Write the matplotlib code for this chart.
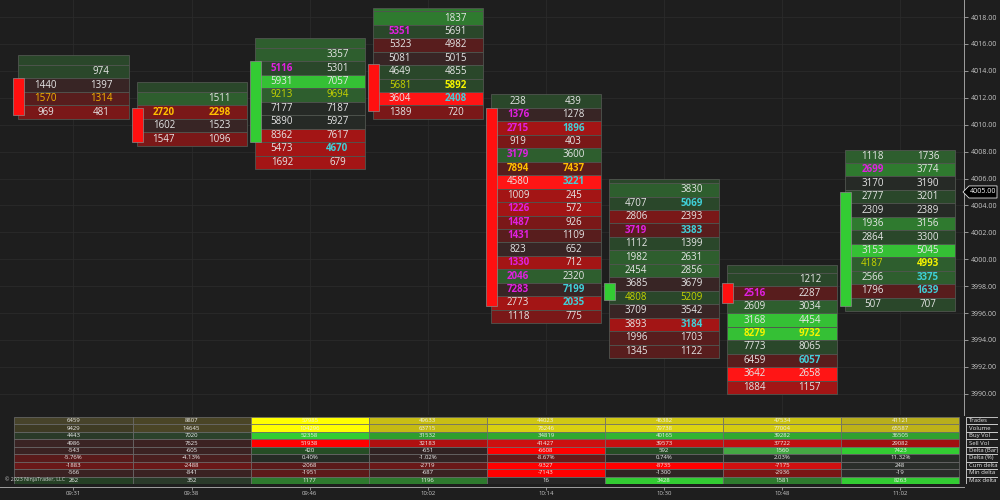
import matplotlib

matplotlib.use("Agg")
import matplotlib.pyplot as plt
import matplotlib.transforms as mtrans
from matplotlib.patches import Rectangle, Polygon

plt.rcParams["font.family"] = ["Open Sans", "DejaVu Sans"]

# ---- footprint data (one entry per bar) -------------------------------------
TIMES = ["09:31", "09:38", "09:46", "10:02", "10:14", "10:30", "10:48", "11:02"]

HIGH = [4015.19, 4013.18, 4016.45, 4018.68, 4012.25, 4005.94, 3999.57, 4008.15]
ROW_TOP = [4014.44, 4012.43, 4015.71, 4018.43, 4012.25, 4005.66, 3998.98, 4008.15]
OPEN = [4013.5, 4011.25, 4008.75, 4014.5, 4011.25, 3997.0, 3998.25, 3996.5]
CLOSE = [4010.75, 4008.75, 4014.75, 4011.0, 3996.5, 3998.25, 3996.75, 4005.0]
LAST_PRICE = 4005.0

BID = [
    [None, 1440, 1570, 969],
    [None, 2720, 1602, 1547],
    [None, 5116, 5931, 9213, 7177, 5890, 8362, 5473, 1692],
    [None, 5351, 5323, 5081, 4649, 5681, 3604, 1389],
    [238, 1376, 2715, 919, 3179, 7894, 4580, 1009, 1226, 1487, 1431, 823, 1330, 2046, 7283, 2773, 1118],
    [None, 4707, 2806, 3719, 1112, 1982, 2454, 3685, 4808, 3709, 3893, 1996, 1345],
    [None, 2516, 2609, 3168, 8279, 7773, 6459, 3642, 1884],
    [1118, 2699, 3170, 2777, 2309, 1936, 2864, 3153, 4187, 2566, 1796, 507],
]
ASK = [
    [974, 1397, 1314, 481],
    [1511, 2298, 1523, 1096],
    [3357, 5301, 7057, 9694, 7187, 5927, 7617, 4670, 679],
    [1837, 5691, 4982, 5015, 4855, 5892, 2408, 720],
    [439, 1278, 1896, 403, 3600, 7437, 3221, 245, 572, 926, 1109, 652, 712, 2320, 7199, 2035, 775],
    [3830, 5069, 2393, 3383, 1399, 2631, 2856, 3679, 5209, 3542, 3184, 1703, 1122],
    [1212, 2287, 3034, 4454, 9732, 8065, 6057, 2658, 1157],
    [1736, 3774, 3190, 3201, 2389, 3156, 3300, 5045, 4993, 3375, 1639, 707],
]

# row shading codes (n neutral, a-d greens, p-t reds) and text highlight codes
ROW_BG = ["apqr", "brpr", "badbnnsss", "caqpaatr", "apsrbqtssrqpsbpsr",
          "barqabbpapsqq", "aqbddaqts", "bcnancadbbqa"]
HEADER_BG = ["a", "a", "b", "c", None, "a", "a", None]
BID_TXT = ["wwGw", "wgww", "wmwlwwwww", "wmwwwlww", "wmmwmgwwmmmwmmmww",
           "wwwmwwwwlwwww", "wmwwywwww", "wmwwwwwwlwww"]
ASK_TXT = ["wwGw", "wgww", "wwwlwwwcw", "wwwwwycw", "wwcwwgcwwwwwwwccw",
           "wcwcwwwwlwcww", "wwwwywcww", "wwwwwwwwyccw"]

# ---- summary table ----------------------------------------------------------
TABLE_LABELS = ["Trades", "Volume", "Buy Vol", "Sell Vol", "Delta (Bar)",
                "Delta (%)", "Cum delta", "Min delta", "Max delta"]
TRADES = [6459, 8807, 57985, 49633, 44023, 46382, 47534, 41121]
VOLUME = [9429, 14645, 104296, 63715, 76246, 79738, 77004, 65587]
BUY_VOL = [4443, 7020, 52358, 31532, 34819, 40165, 39282, 36505]
SELL_VOL = [4986, 7625, 51938, 32183, 41427, 39573, 37722, 29082]
DELTA = [-543, -605, 420, -651, -6608, 592, 1560, 7423]
DELTA_PCT = [-5.76, -4.13, 0.40, -1.02, -8.67, 0.74, 2.03, 11.32]
CUM_DELTA = [-1883, -2488, -2068, -2719, -9327, -8735, -7175, 248]
MIN_DELTA = [-566, -841, -1951, -687, -7143, -1300, -2936, -19]
MAX_DELTA = [262, 352, 1177, 1196, 16, 3428, 1581, 8263]

TABLE_COLORS = [
    ["#47432a", "#4a4526", "#ffff00", "#c8be14", "#d0c814", "#d0c814", "#ccc414", "#b8ae1c"],
    ["#3e3b24", "#4a4526", "#ffff00", "#c4ba12", "#d8d010", "#dcd410", "#d4cc10", "#bdb218"],
    ["#2a3a28", "#2b422b", "#33cc33", "#2e9e2e", "#30a830", "#32b432", "#30a830", "#30a030"],
    ["#3a2424", "#3c2222", "#ff0000", "#b01010", "#cc1010", "#c81010", "#c01010", "#a01010"],
    ["#3a2222", "#3b2222", "#254d25", "#302222", "#ff0000", "#254d25", "#44a844", "#33cc33"],
    ["#5a1a1a", "#4a1f1f", "#252b25", "#322424", "#6a1818", "#262a26", "#262a26", "#282c28"],
    ["#6a1818", "#6a1818", "#5a1a1a", "#6a1818", "#ff0000", "#ff0000", "#d01010", "#2a2e2a"],
    ["#3a2222", "#3a2222", "#5c1a1a", "#3a2222", "#ff0000", "#302424", "#7a1616", "#2a2a2a"],
    ["#254025", "#2a3a2a", "#2e7a2e", "#2e7a2e", "#262626", "#33cc33", "#2e7a2e", "#33cc33"],
]

BG = "#1e1e1e"
SHADE = {"n": "#262a26", "a": "#2a472a", "b": "#2e5e2e", "c": "#2f7a2f", "d": "#35c035",
         "p": "#382525", "q": "#581d1d", "r": "#7a1818", "s": "#a31515", "t": "#ff1515"}
TXT = {"w": ("#e6e6e6", "normal"), "G": ("#f2b400", "normal"), "g": ("#ffc000", "bold"),
       "y": ("#f4f400", "bold"), "l": ("#c8d400", "normal"), "m": ("#e020e0", "bold"),
       "c": ("#40d0d8", "bold")}


def main():
    fig = plt.figure(figsize=(10, 5), dpi=100, facecolor=BG)
    xl = (-0.622, 7.54)

    ax = fig.add_axes([0, 0.17, 0.964, 0.83], facecolor=BG)
    ax.set_xlim(*xl)
    ax.set_ylim(3988.42, 4019.27)
    ax.set_xticks(range(len(TIMES)))
    ax.set_yticks(range(3990, 4019, 2))
    ax.set_yticklabels([f"{v:.2f}" for v in range(3990, 4019, 2)])
    ax.yaxis.tick_right()
    ax.tick_params(axis="y", colors="#a8a8a8", labelcolor="#c8c8c8", labelsize=5,
                   length=3, width=0.6, pad=2)
    ax.tick_params(axis="x", length=0, labelbottom=False)
    ax.grid(True, color="#2b2b2b", linewidth=0.6)
    ax.set_axisbelow(True)
    for s in ("top", "left", "bottom"):
        ax.spines[s].set_visible(False)
    ax.spines["right"].set_color("#a0a0a0")
    ax.spines["right"].set_linewidth(0.7)

    hw = 0.466
    for i in range(len(BID)):
        if HEADER_BG[i] is not None:
            ax.add_patch(Rectangle((i - hw, ROW_TOP[i]), 2 * hw, HIGH[i] - ROW_TOP[i],
                                   fc=SHADE[HEADER_BG[i]], ec="#50554f", lw=0.6, zorder=2))
        for k, (b, a) in enumerate(zip(BID[i], ASK[i])):
            top = ROW_TOP[i] - k
            ax.add_patch(Rectangle((i - hw, top - 1), 2 * hw, 1, fc=SHADE[ROW_BG[i][k]],
                                   ec="#50554f", lw=0.6, zorder=2))
            for val, dx, codes in ((b, -0.235, BID_TXT[i]), (a, 0.235, ASK_TXT[i])):
                if val is None:
                    continue
                col, wt = TXT[codes[k]]
                ax.text(i + dx, top - 0.5, str(val), color=col, fontweight=wt,
                        fontsize=7, ha="center", va="center", zorder=3)
        lo, hi = sorted((OPEN[i], CLOSE[i]))
        ccol = "#33cc33" if CLOSE[i] > OPEN[i] else "#ff1010"
        ax.add_patch(Rectangle((i - 0.508, lo), 0.093, hi - lo, fc=ccol,
                               ec="#8a8a8a", lw=0.5, zorder=3))

    # last price marker on the price scale
    tr = mtrans.blended_transform_factory(ax.transAxes, ax.transData)
    px = 1 / 964
    ax.add_patch(Polygon([(1 - px, LAST_PRICE), (1 + 5 * px, LAST_PRICE + 0.45),
                          (1 + 33 * px, LAST_PRICE + 0.45), (1 + 33 * px, LAST_PRICE - 0.45),
                          (1 + 5 * px, LAST_PRICE - 0.45)], closed=True, transform=tr,
                         fc="#000000", ec="#e0e0e0", lw=0.6, clip_on=False, zorder=5))
    ax.text(1 + 19 * px, LAST_PRICE, f"{LAST_PRICE:.2f}", transform=tr, color="white",
            fontsize=5, ha="center", va="center", zorder=6)

    # summary table
    tax = fig.add_axes([0, 0.032, 0.964, 0.134], facecolor=BG)
    tax.set_xlim(*xl)
    tax.set_ylim(9, 0)
    rows = [
        [str(v) for v in TRADES],
        [str(v) for v in VOLUME],
        [str(v) for v in BUY_VOL],
        [str(v) for v in SELL_VOL],
        [str(v) for v in DELTA],
        [f"{v:.2f}%" for v in DELTA_PCT],
        [str(v) for v in CUM_DELTA],
        [str(v) for v in MIN_DELTA],
        [str(v) for v in MAX_DELTA],
    ]
    for r, vals in enumerate(rows):
        for c, s in enumerate(vals):
            w = min(1.0, xl[1] - (c - 0.5))
            tax.add_patch(Rectangle((c - 0.5, r), w, 1, fc=TABLE_COLORS[r][c],
                                    ec="#6e6e6e", lw=0.5))
            tax.text(c, r + 0.5, s, color="#f0f0f0", fontsize=4.3, ha="center", va="center")
    tax.set_xticks(range(len(TIMES)))
    tax.set_xticklabels(TIMES)
    tax.set_yticks([])
    tax.tick_params(axis="x", colors="#a0a0a0", labelcolor="#c8c8c8", labelsize=4.3,
                    length=2.5, width=0.6, pad=0.8)
    for s in ("top", "left", "right"):
        tax.spines[s].set_visible(False)
    tax.spines["bottom"].set_position(("outward", 2))
    tax.spines["bottom"].set_color("#a0a0a0")
    tax.spines["bottom"].set_linewidth(0.7)

    lax = fig.add_axes([0.964, 0.032, 0.034, 0.134], facecolor=BG)
    lax.set_xlim(0, 1)
    lax.set_ylim(9, 0)
    lax.axis("off")
    for r, lab in enumerate(TABLE_LABELS):
        lax.add_patch(Rectangle((0.05, r), 0.95, 1, fc=BG, ec="#d8d8d8", lw=0.6))
        lax.text(0.15, r + 0.5, lab, color="#e8e8e8", fontsize=4.3, ha="left", va="center")

    fig.text(0.005, 1 - 479 / 500, "\u00a9 2023 NinjaTrader, LLC", color="#d0d0d0",
             fontsize=3.8, ha="left", va="center")

    fig.savefig("out.png", dpi=100, facecolor=BG)


if __name__ == "__main__":
    main()
